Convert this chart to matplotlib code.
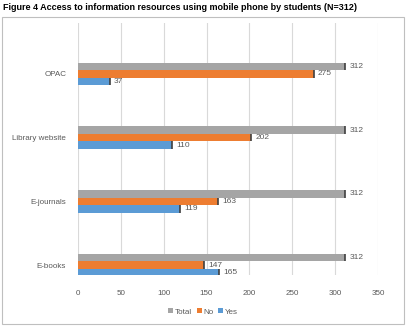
import numpy as np
import matplotlib
matplotlib.use("Agg")
import matplotlib.pyplot as plt
from matplotlib.patches import Rectangle

plt.rcParams['font.family'] = ['Liberation Sans', 'DejaVu Sans']

categories = ["E-books", "E-journals", "Library website", "OPAC"]
yes = [165, 119, 110, 37]
no = [147, 163, 202, 275]
total = [312, 312, 312, 312]

c_total = "#A5A5A5"
c_no = "#ED7D31"
c_yes = "#5B9BD5"
txt = "#595959"

W, H = 407, 326
fig = plt.figure(figsize=(W / 100, H / 100), dpi=100)

# chart border
fig.patches.append(Rectangle((2 / W, 1 - 324 / H), 402 / W, 307 / H,
                             transform=fig.transFigure, fill=False,
                             edgecolor="#BFBFBF", linewidth=0.8))

fig.text(3 / W, 1 - 8 / H, "Figure 4 Access to information resources using mobile phone by students (N=312)",
         fontsize=6.5, fontweight="bold", va="center", ha="left", color="#000000")

ax = fig.add_axes([78 / W, 1 - 275 / H, 300 / W, 252 / H])
y = np.arange(len(categories))
step = 0.118
h = 0.118

series = [(total, c_total, step, "Total"), (no, c_no, 0.0, "No"), (yes, c_yes, -step, "Yes")]
for vals, col, off, lab in series:
    bars = ax.barh(y + off, vals, height=h, color=col, label=lab, zorder=3)
    # darker end cap to mimic the 3D look
    for b in bars:
        x1 = b.get_x() + b.get_width()
        ax.plot([x1, x1], [b.get_y(), b.get_y() + b.get_height()],
                color="#404040", lw=1.2, zorder=4, solid_capstyle="butt")
    for yy, v in zip(y + off, vals):
        ax.text(v + 5, yy, str(v), fontsize=6, va="center", ha="left", color=txt, zorder=5)

ax.set_xlim(0, 350)
ax.set_xticks(np.arange(0, 351, 50))
ax.set_ylim(-0.157, 3.80)
ax.set_yticks(y)
ax.set_yticklabels(categories)
ax.tick_params(axis="both", length=0, labelsize=5.8, colors=txt)
ax.tick_params(axis="x", pad=11)
ax.tick_params(axis="y", pad=8.5)
ax.grid(axis="x", color="#D9D9D9", linewidth=0.8, zorder=0)
for s in ax.spines.values():
    s.set_visible(False)

handles, labels = ax.get_legend_handles_labels()
leg = fig.legend(handles, labels, loc="center", bbox_to_anchor=(203 / W, 1 - 312 / H),
                 ncol=3, frameon=False, fontsize=5.8, handlelength=0.6, handleheight=0.6,
                 handletextpad=0.2, columnspacing=0.6, borderaxespad=0)
for t in leg.get_texts():
    t.set_color(txt)

fig.savefig("out.png", dpi=100)
